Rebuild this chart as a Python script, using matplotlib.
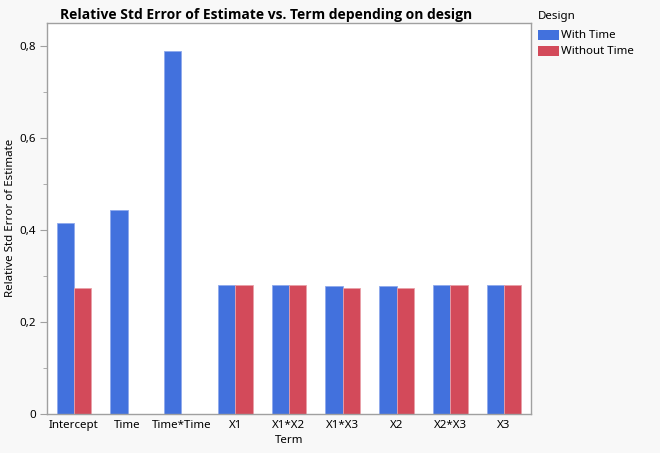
import numpy as np
import matplotlib
matplotlib.use("Agg")
from matplotlib import pyplot as plt
from matplotlib.patches import Rectangle
from matplotlib.ticker import FuncFormatter, MultipleLocator

plt.rcParams['font.family'] = ['Noto Sans', 'DejaVu Sans']

terms = ['Intercept', 'Time', 'Time*Time', 'X1', 'X1*X2', 'X1*X3', 'X2', 'X2*X3', 'X3']
with_time = [0.415, 0.443, 0.791, 0.280, 0.280, 0.278, 0.278, 0.280, 0.280]
without_time = [0.274, np.nan, np.nan, 0.280, 0.280, 0.274, 0.274, 0.280, 0.280]
series_names = ['With Time', 'Without Time']
colors = ['#4271DD', '#D34A5A']

fig = plt.figure(figsize=(6.6, 4.53), dpi=100, facecolor='#F8F8F8')
ax = fig.add_axes([47 / 660, 39 / 453, 484 / 660, 391 / 453])
ax.set_facecolor('white')

x = np.arange(len(terms))
w = 0.322
ax.bar(x - w / 2, with_time, width=w, color=colors[0], edgecolor='#8FA9EC', linewidth=0.6)
ax.bar(x + w / 2, without_time, width=w, color=colors[1], edgecolor='#E8A0A8', linewidth=0.6)

ax.set_xlim(-0.5, len(terms) - 0.5)
ax.set_ylim(0, 0.851)
ax.set_xticks(x)
ax.set_xticklabels(terms, fontsize=8.3)
ax.tick_params(axis='x', length=0, pad=4)
ax.yaxis.set_major_locator(MultipleLocator(0.2))
ax.yaxis.set_minor_locator(MultipleLocator(0.1))
ax.yaxis.set_major_formatter(FuncFormatter(lambda v, p: '0' if v == 0 else f'{v:.1f}'.replace('.', ',')))
ax.tick_params(axis='y', which='major', length=5, color='#A0A0A0', labelsize=8.3, pad=3)
ax.tick_params(axis='y', which='minor', length=3, color='#A0A0A0')
for s in ax.spines.values():
    s.set_color('#A0A0A0')
    s.set_linewidth(1)

ax.set_xlabel('Term', fontsize=8.3, labelpad=3)
fig.text(11 / 660, 1 - 218 / 453, 'Relative Std Error of Estimate', fontsize=8.3,
         rotation=90, ha='center', va='center')

fig.text(60 / 660, 1 - 15 / 453, 'Relative Std Error of Estimate vs. Term depending on design',
         fontsize=10, fontweight='bold', family=['Open Sans', 'DejaVu Sans'], ha='left', va='center')

# legend
fig.text(538 / 660, 1 - 16 / 453, 'Design', fontsize=8.3, ha='left', va='center')
for i, name in enumerate(series_names):
    yc = 35 + i * 16
    fig.patches.append(Rectangle((538 / 660, 1 - (yc + 5) / 453), 21 / 660, 10 / 453,
                                 transform=fig.transFigure, facecolor=colors[i], edgecolor='none'))
    fig.text(561 / 660, 1 - yc / 453, name, fontsize=8.3, ha='left', va='center')

fig.savefig('out.png', dpi=100, facecolor=fig.get_facecolor())
